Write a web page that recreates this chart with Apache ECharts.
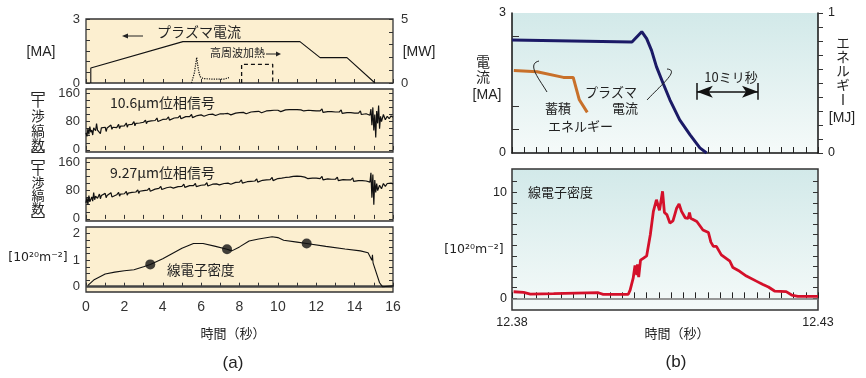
<!DOCTYPE html>
<html><head><meta charset="utf-8">
<script src="https://cdn.jsdelivr.net/npm/echarts@6/dist/echarts.min.js"></script>
<style>html,body{margin:0;padding:0;background:#fff}#c{width:866px;height:378px}</style>
</head><body><div id="c"></div>
<script>
// ---------- data: panel (a) ----------
const plasmaA = [[0.25,0],[0.25,0.7],[5.05,1.94],[11.15,1.94],[12.2,1.19],[13.6,1.19],[15.06,0]];
const heatSpike = [[5.5,0],[5.65,0.8],[5.77,2.0],[5.85,1.1],[5.94,0.5],[6.1,0.35],[6.6,0.3],[7.2,0.31],[7.45,0.42]];
const heatBox = [[8.11,0],[8.11,1.46],[9.73,1.46],[9.73,0]];
const phase106 = [[0.0,48],[0.05,38],[0.1,60],[0.15,44],[0.2,66],[0.25,50],[0.3,56],[0.35,42],[0.4,62],[0.5,54],[0.55,74],[0.6,56],[0.7,60],[0.75,46],[0.8,62],[0.9,58],[1.0,64],[1.05,52],[1.1,62],[1.2,60],[1.3,70],[1.35,58],[1.4,64],[1.6,63],[1.7,72],[1.75,60],[1.8,67],[2.0,68],[2.1,76],[2.15,64],[2.2,71],[2.4,72],[2.5,80],[2.55,68],[2.6,75],[2.8,76],[3.0,78],[3.1,84],[3.15,74],[3.2,80],[3.4,82],[3.6,83],[3.7,90],[3.75,80],[3.8,85],[4.0,86],[4.2,87],[4.3,93],[4.35,84],[4.4,89],[4.6,90],[4.8,91],[4.9,97],[4.95,88],[5.0,92],[5.2,94],[5.4,94],[5.5,100],[5.55,91],[5.6,96],[5.8,97],[6.0,99],[6.1,104],[6.15,95],[6.2,99],[6.4,100],[6.6,101],[6.7,106],[6.75,97],[6.8,101],[7.0,102],[7.2,102],[7.4,103],[7.5,108],[7.55,99],[7.6,103],[7.8,104],[8.0,105],[8.2,106],[8.3,111],[8.35,102],[8.4,106],[8.6,107],[8.8,108],[9.0,109],[9.1,114],[9.15,105],[9.2,109],[9.4,110],[9.6,111],[9.8,112],[10.0,112],[10.1,117],[10.15,108],[10.2,113],[10.4,113],[10.6,114],[10.8,114],[11.0,114],[11.2,113],[11.3,118],[11.35,110],[11.4,113],[11.6,112],[11.8,111],[12.0,110],[12.2,110],[12.3,116],[12.35,106],[12.4,109],[12.6,108],[12.8,108],[13.0,107],[13.2,107],[13.3,113],[13.35,103],[13.4,106],[13.6,105],[13.8,105],[14.0,104],[14.2,104],[14.3,110],[14.35,100],[14.4,103],[14.6,102],[14.8,98],[14.85,115],[14.9,70],[14.95,120],[15.0,55],[15.05,100],[15.1,35],[15.15,110],[15.2,75],[15.25,125],[15.3,60],[15.35,95],[15.4,80],[15.5,100],[15.6,85],[15.7,95],[15.8,88],[15.9,96],[16.0,92]];
const phase927 = [[0.0,45],[0.05,60],[0.1,40],[0.15,66],[0.2,48],[0.3,62],[0.35,50],[0.4,74],[0.45,54],[0.5,64],[0.6,58],[0.7,70],[0.75,57],[0.8,66],[0.9,62],[1.0,72],[1.05,60],[1.1,66],[1.2,65],[1.3,74],[1.35,62],[1.4,67],[1.6,68],[1.7,75],[1.75,64],[1.8,70],[2.0,71],[2.1,78],[2.15,67],[2.2,73],[2.4,75],[2.6,76],[2.7,82],[2.75,72],[2.8,78],[3.0,80],[3.2,81],[3.3,87],[3.35,78],[3.4,83],[3.6,84],[3.8,86],[3.9,92],[3.95,83],[4.0,88],[4.2,88],[4.4,90],[4.5,95],[4.55,87],[4.6,91],[4.8,91],[5.0,92],[5.1,98],[5.15,89],[5.2,93],[5.4,94],[5.6,94],[5.7,100],[5.75,91],[5.8,95],[6.0,95],[6.2,96],[6.3,102],[6.35,93],[6.4,97],[6.6,98],[6.8,99],[6.9,104],[6.95,96],[7.0,100],[7.2,100],[7.4,101],[7.5,106],[7.55,98],[7.6,102],[7.8,103],[8.0,104],[8.1,110],[8.15,101],[8.2,105],[8.4,105],[8.6,106],[8.8,107],[8.9,113],[8.95,104],[9.0,108],[9.2,109],[9.4,110],[9.6,111],[9.7,117],[9.75,108],[9.8,113],[10.0,114],[10.2,115],[10.4,117],[10.6,118],[10.8,120],[11.0,121],[11.2,120],[11.4,118],[11.5,123],[11.55,114],[11.6,117],[11.8,115],[12.0,115],[12.2,114],[12.3,120],[12.35,110],[12.4,113],[12.6,113],[12.8,112],[13.0,112],[13.1,118],[13.15,108],[13.2,111],[13.4,111],[13.6,110],[13.8,110],[13.9,116],[13.95,106],[14.0,109],[14.2,108],[14.4,108],[14.6,107],[14.8,104],[14.85,130],[14.9,60],[14.95,125],[15.0,40],[15.05,110],[15.1,75],[15.15,100],[15.2,80],[15.3,95],[15.4,85],[15.5,100],[15.6,92],[15.7,100],[15.8,96],[15.9,101],[16.0,99]];
const densityA = [[0.1,0.05],[0.4,0.25],[1.0,0.48],[1.5,0.55],[2.0,0.6],[2.5,0.64],[3.0,0.75],[3.35,0.84],[4.0,1.05],[4.5,1.25],[5.0,1.45],[5.6,1.63],[6.1,1.63],[6.7,1.53],[7.35,1.41],[7.6,1.35],[8.0,1.5],[8.5,1.72],[9.0,1.8],[9.7,1.88],[10.0,1.85],[10.3,1.75],[11.0,1.68],[11.5,1.63],[12.5,1.52],[13.5,1.42],[14.3,1.35],[14.7,1.28],[14.9,1.0],[14.93,1.2],[14.96,0.9],[15.3,0.15],[15.45,0.0],[16,0.03]];
const densityDots = [[3.35,0.84],[7.35,1.41],[11.5,1.63]];
// ---------- data: panel (b) ----------
const plasmaB = [[12.380,2.42],[12.3996,2.38],[12.4012,2.6],[12.4020,2.45],[12.4028,2.2],[12.4036,1.85],[12.4047,1.49],[12.4058,1.14],[12.4074,0.71],[12.4091,0.39],[12.4107,0.11],[12.4118,0]];
const energyB = [[12.3803,0.59],[12.3841,0.58],[12.3884,0.54],[12.3900,0.54],[12.3910,0.38],[12.3923,0.29]];
const densityB = [[12.38026,0.62],[12.3819,0.57],[12.3830,0.40],[12.3868,0.44],[12.3941,0.53],[12.3949,0.38],[12.3990,0.38],[12.3993,0.78],[12.3998,1.9],[12.4001,3.1],[12.4004,2.2],[12.4005,3.2],[12.4007,2.0],[12.4010,3.6],[12.4015,3.8],[12.4020,4.0],[12.4026,6.0],[12.4031,8.2],[12.4036,9.3],[12.4041,8.3],[12.4044,8.3],[12.4046,10.1],[12.4049,8.1],[12.4053,7.9],[12.4058,7.1],[12.4063,7.3],[12.4066,7.9],[12.4069,8.5],[12.4073,8.9],[12.4077,8.2],[12.4083,7.6],[12.4088,7.55],[12.4090,8.1],[12.4092,7.55],[12.4102,7.25],[12.4112,6.45],[12.4121,6.2],[12.4125,5.3],[12.4129,4.9],[12.4134,4.9],[12.4142,4.1],[12.4156,3.5],[12.4161,2.9],[12.4172,2.55],[12.4183,2.1],[12.4200,1.6],[12.4210,1.3],[12.4219,1.07],[12.4229,0.69],[12.4248,0.63],[12.4257,0.31],[12.4267,0.19],[12.4300,0.19]];
const scale10ms = [12.4102, 12.4202];
// ---------- tick labels ----------
const xLabelsA = [0,2,4,6,8,10,12,14,16];
const yLabelsA1 = [0,3];
const yLabelsA1R = [0,5];
const yLabelsPhase = [0,80,160];
const yLabelsDens = [0,1,2];
const xLabelsB = [12.38,12.43];
const yLabelsB1 = [0,3];
const yLabelsB1R = [0,1];
const yLabelsB2 = [0,10];

function range(a,b,s){const r=[];for(let v=a;v<=b+1e-9;v+=s)r.push(+v.toFixed(6));return r;}
const JP='"Noto Sans CJK JP", sans-serif';
const NUM='"Liberation Sans", Arial, sans-serif';
const TXT='#222';
const chart = echarts.init(document.getElementById('c'), null, {renderer:'canvas'});
const creamBg='#fcefd0';
const mkTeal=()=>new echarts.graphic.LinearGradient(0,0,0,1,[{offset:0,color:'#d2e9e9'},{offset:1,color:'#f5faf9'}]);

const aGrid = (top,h)=>({left:86,top:top,width:307,height:h,show:true,backgroundColor:creamBg,borderColor:'#333',borderWidth:1.3});
const grids=[aGrid(19,64),aGrid(89,63),aGrid(158,63),aGrid(227,65),
 {left:512,top:13,width:306,height:140,show:true,backgroundColor:mkTeal(),borderWidth:0},
 {left:512,top:169,width:306,height:141,show:true,backgroundColor:mkTeal(),borderColor:'#333',borderWidth:1.5}];

const tickA = {inside:true,length:4,lineStyle:{color:'#333',width:1},customValues:range(0,16,1)};
const xA = i=>({gridIndex:i,type:'value',min:0,max:16,axisLine:{show:false},splitLine:{show:false},
  axisTick:tickA,
  axisLabel:{show:i===3,customValues:xLabelsA,fontFamily:NUM,fontSize:14,color:'#333',margin:8}});
const xB = i=>({gridIndex:i,type:'value',min:12.38,max:12.43,splitLine:{show:false},
  axisLine:{show:i===4,lineStyle:{color:'#111',width:1.5}},
  axisTick:{inside:true,length:6,lineStyle:{color:'#222'},customValues:range(12.38,12.43,0.002)},
  axisLabel:{show:i===5,customValues:xLabelsB,formatter:v=>v.toFixed(2),fontFamily:NUM,fontSize:12.5,color:'#222',margin:6}});

function yAx(grid,pos,min,max,ticks,labels,opt){
  opt=opt||{};
  return {gridIndex:grid,type:'value',position:pos,min:min,max:max,splitLine:{show:false},
    axisLine:{show:!!opt.line,lineStyle:{color:'#111',width:1.5}},
    axisTick:{show:true,inside:opt.outside?false:true,length:opt.tl||4,lineStyle:{color:'#333'},customValues:ticks},
    axisLabel:{show:!!labels,customValues:labels||[],fontFamily:NUM,fontSize:opt.fs||13,color:opt.lc||'#333',margin:opt.margin||6}};
}
const yAxes=[
  yAx(0,'left',0,3,range(0,3,0.5),yLabelsA1),
  yAx(0,'right',0,5,range(0,5,1),yLabelsA1R,{margin:8}),
  yAx(1,'left',-6,172,range(0,160,20),yLabelsPhase),
  yAx(1,'right',-6,172,range(0,160,20),null),
  yAx(2,'left',-6,172,range(0,160,20),yLabelsPhase),
  yAx(2,'right',-6,172,range(0,160,20),null),
  yAx(3,'left',-0.2,2.25,range(0,2,0.25),yLabelsDens),
  yAx(3,'right',-0.2,2.25,range(0,2,0.25),null),
  yAx(4,'left',0,3,[0.5,1,2.5],yLabelsB1,{line:true,tl:7,fs:12.5,lc:'#222',margin:6}),
  yAx(4,'right',0,1,range(0,1,0.1),yLabelsB1R,{line:true,outside:true,tl:5,fs:12.5,lc:'#222',margin:10}),
  yAx(5,'left',-1.1,12.2,range(0,11,1),yLabelsB2,{tl:5,fs:12.5,lc:'#222',margin:5}),
  yAx(5,'right',-1.1,12.2,range(0,11,1),null,{tl:5})
];

const line=(x,y,data,color,w,type)=>({type:'line',xAxisIndex:x,yAxisIndex:y,data:data,symbol:'none',silent:true,
  lineStyle:{color:color,width:w,type:type||'solid'},z:5});

const series=[
  line(0,0,plasmaA,'#111',1.1),
  line(0,1,heatSpike,'#111',1.2,'dotted'),
  line(0,1,heatBox,'#111',1.3,[4,3]),
  line(1,2,phase106,'#111',1.2),
  line(2,4,phase927,'#111',1.2),
  Object.assign(line(3,6,densityA,'#111',1.1),{markLine:{silent:true,symbol:'none',label:{show:false},animation:false,
    lineStyle:{color:'#444',width:2.5,type:'solid'},data:[{yAxis:0}]}}),
  {type:'scatter',xAxisIndex:3,yAxisIndex:6,data:densityDots,symbolSize:10,itemStyle:{color:'#111'},silent:true,z:6},
  Object.assign(line(4,8,plasmaB,'#1b1a66',3),{markLine:{silent:true,label:{show:false},animation:false,
    lineStyle:{color:'#111',width:1.5,type:'solid'},
    data:[
      [{coord:[scale10ms[0],1.31],symbol:'arrow',symbolSize:[9,16]},{coord:[scale10ms[1],1.31],symbol:'arrow',symbolSize:[9,16]}],
      [{coord:[scale10ms[0],1.14],symbol:'none'},{coord:[scale10ms[0],1.5],symbol:'none'}],
      [{coord:[scale10ms[1],1.14],symbol:'none'},{coord:[scale10ms[1],1.5],symbol:'none'}]
    ]}}),
  line(4,9,energyB,'#c8702a',3),
  Object.assign(line(5,10,densityB,'#d4102a',2.8),{markLine:{silent:true,symbol:'none',label:{show:false},animation:false,
    lineStyle:{color:'#777',width:1.5,type:'solid'},data:[{yAxis:0}]},z:4})
];

const T=(x,y,text,fs,opt)=>({type:'text',x:x,y:y,silent:true,z:20,
  style:{text:text,fontFamily:(opt&&opt.ff)||JP,fontSize:fs,fill:(opt&&opt.fill)||TXT,align:(opt&&opt.align)||'center',verticalAlign:'middle'}});
const PL=(pts,w)=>({type:'polyline',silent:true,z:20,shape:{points:pts},style:{stroke:'#222',lineWidth:w||1,fill:null}});
const PG=(pts)=>({type:'polygon',silent:true,z:20,shape:{points:pts},style:{fill:'#222'}});
// vertical stacked text, one char per element
const V=(x,ys,chars,fs)=>chars.map((c,i)=>T(x,ys[i],c,fs));

const graphic=[
  // panel a texts
  T(41,52,'[MA]',14,{ff:NUM}),
  T(419,52,'[MW]',14,{ff:NUM}),
  T(157,32,'プラズマ電流',14,{align:'left'}),
  PL([[143,36],[126,36]],1),PG([[122,36],[128,33.5],[128,38.5]]),
  T(210,53,'高周波加熱',11,{align:'left'}),
  PL([[266,54],[277,54]],1),PG([[281,54],[276,51.5],[276,56.5]]),
  T(110,103,'10.6μm位相信号',14,{align:'left'}),
  T(110,173,'9.27μm位相信号',14,{align:'left'}),
  T(167,270,'線電子密度',13.5,{align:'left'}),
  T(38,258,'[10²⁰m⁻²]',12.5,{ff:'"DejaVu Sans", sans-serif'}),
  ...V(38,[101,116,131,145],['干','渉','縞','数'],13.5),
  PL([[32,96],[32,92.5],[44,92.5],[44,96]],1.2),
  PL([[32,149],[32,152.5],[44,152.5],[44,149]],1.2),
  ...V(38,[169.5,182.5,195.5,208.5],['干','渉','縞','数'],13),
  PL([[32,164],[32,160.5],[44,160.5],[44,164]],1.2),
  PL([[32,214],[32,217.5],[44,217.5],[44,214]],1.2),
  T(233,333,'時間（秒）',13),
  T(233,363,'(a)',17,{ff:NUM}),
  // panel b texts
  T(483,62,'電',14),T(483,77,'流',14),T(487,95,'[MA]',14,{ff:NUM}),
  ...V(843,[43,57,71,85],['エ','ネ','ル','ギ'],13.5),
  PL([[843,94],[843,105]],1.3),
  T(842,118,'[MJ]',14,{ff:NUM}),
  T(637,92,'プラズマ',13,{align:'right'}),
  T(638,108,'電流',13,{align:'right'}),
  T(545,108,'蓄積',13,{align:'left'}),
  T(548,126,'エネルギー',13,{align:'left'}),
  T(731,77,'10ミリ秒',13),
  T(528,192,'線電子密度',13,{align:'left'}),
  T(474,250,'[10²⁰m⁻²]',12.5,{ff:'"DejaVu Sans", sans-serif'}),
  T(677,333,'時間（秒）',13),
  T(676,362,'(b)',17,{ff:NUM}),
  {type:'bezierCurve',silent:true,z:20,shape:{x1:647,y1:100,cpx1:662,cpy1:84,cpx2:680,cpy2:70,x2:667,y2:69},style:{stroke:'#222',lineWidth:1,fill:null}},
  {type:'bezierCurve',silent:true,z:20,shape:{x1:547,y1:92,cpx1:540,cpy1:80,cpx2:526,cpy2:64,x2:539,y2:61},style:{stroke:'#222',lineWidth:1,fill:null}}
];

chart.setOption({backgroundColor:'#fff',animation:false,grid:grids,
  xAxis:[xA(0),xA(1),xA(2),xA(3),xB(4),xB(5)],yAxis:yAxes,series:series,graphic:graphic});
</script></body></html>
